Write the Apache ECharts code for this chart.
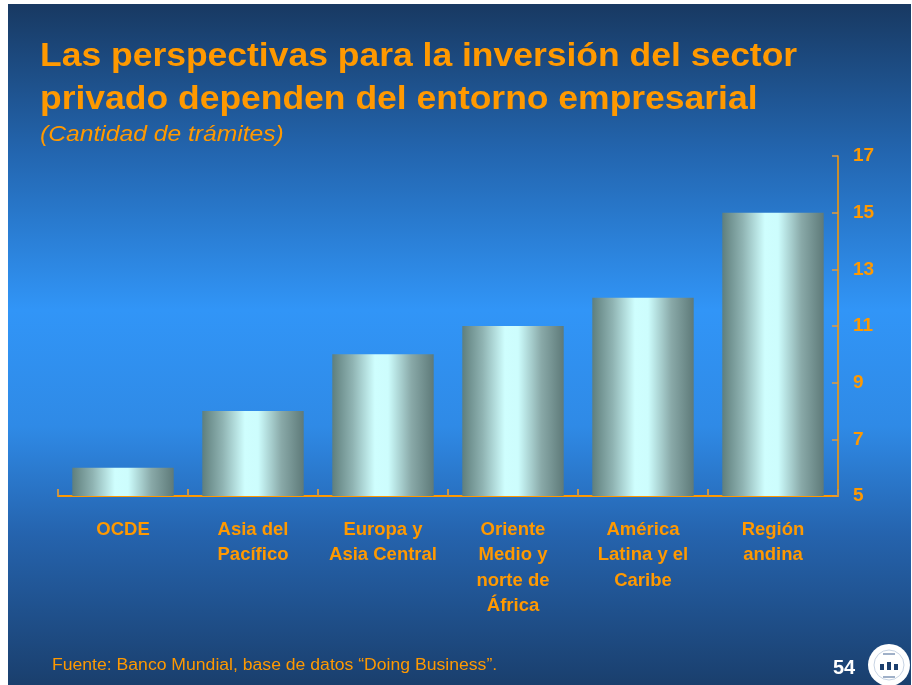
<!DOCTYPE html>
<html>
<head>
<meta charset="utf-8">
<style>
  html, body { margin: 0; padding: 0; background: #ffffff; }
  #chart { width: 912px; height: 685px; }
</style>
<script src="https://cdn.jsdelivr.net/npm/echarts@6/dist/echarts.min.js"></script>
</head>
<body>
<div id="chart"></div>
<script>
// Number of procedures required to start a business, by region
const categories = [
  'OCDE',
  'Asia del\nPacífico',
  'Europa y\nAsia Central',
  'Oriente\nMedio y\nnorte de\nÁfrica',
  'América\nLatina y el\nCaribe',
  'Región\nandina'
];
const procedures = [6, 8, 10, 11, 12, 15];
const yTicks = { min: 5, max: 17, step: 2 };

const titleLines = [
  'Las perspectivas para la inversión del sector',
  'privado dependen del entorno empresarial'
];
const subtitle = '(Cantidad de trámites)';
const sourceNote = 'Fuente: Banco Mundial, base de datos \u201cDoing Business\u201d.';
const pageNumber = '54';

const ORANGE = '#ff9900';
const FONT = '"Liberation Sans", Arial, sans-serif';
// slide text is set slightly wide
const WIDE = 1.1;

const chart = echarts.init(document.getElementById('chart'), null, { renderer: 'canvas' });

const barFill = new echarts.graphic.LinearGradient(0, 0, 1, 0, [
  { offset: 0, color: '#5f7f7d' },
  { offset: 0.2, color: '#8fb3b2' },
  { offset: 0.42, color: '#cffefe' },
  { offset: 0.55, color: '#cdfdfd' },
  { offset: 0.78, color: '#89a9a8' },
  { offset: 1, color: '#5e7a79' }
]);

chart.setOption({
  backgroundColor: 'transparent',
  animation: false,
  textStyle: { fontFamily: FONT },
  grid: { left: 58, right: 74, top: 156, bottom: 189, containLabel: false },
  graphic: [
    {
      type: 'rect',
      z: -10,
      shape: { x: 8, y: 4, width: 903, height: 681 },
      style: {
        fill: new echarts.graphic.LinearGradient(0, 0, 0, 1, [
          { offset: 0, color: '#183962' },
          { offset: 0.22, color: '#2366b0' },
          { offset: 0.45, color: '#3195f7' },
          { offset: 0.62, color: '#2f8ae6' },
          { offset: 0.78, color: '#2563ad' },
          { offset: 1, color: '#1a3f6d' }
        ])
      }
    },
    {
      type: 'text',
      x: 40, y: 35,
      scaleX: 1.075,
      style: {
        text: titleLines.join('\n'),
        fill: ORANGE,
        font: 'bold 33px ' + FONT,
        lineHeight: 43
      }
    },
    {
      type: 'text',
      x: 40, y: 124,
      scaleX: 1.12,
      style: {
        text: subtitle,
        fill: ORANGE,
        font: 'italic 22px ' + FONT
      }
    },
    {
      type: 'text',
      x: 52, y: 658,
      scaleX: WIDE,
      style: {
        text: sourceNote,
        fill: ORANGE,
        font: '16px ' + FONT
      }
    },
    {
      type: 'text',
      x: 833, y: 658,
      style: {
        text: pageNumber,
        fill: '#ffffff',
        font: 'bold 20px ' + FONT
      }
    },
    {
      type: 'group',
      x: 868, y: 644,
      children: [
        { type: 'circle', shape: { cx: 21, cy: 21, r: 21 }, style: { fill: '#ffffff' } },
        { type: 'circle', shape: { cx: 21, cy: 21, r: 15 }, style: { fill: 'none', stroke: '#c8d4e4', lineWidth: 1 } },
        { type: 'rect', shape: { x: 12, y: 20, width: 4, height: 6 }, style: { fill: '#1c3f6e' } },
        { type: 'rect', shape: { x: 19, y: 18, width: 4, height: 8 }, style: { fill: '#1c3f6e' } },
        { type: 'rect', shape: { x: 26, y: 20, width: 4, height: 6 }, style: { fill: '#1c3f6e' } },
        { type: 'rect', shape: { x: 15, y: 9, width: 12, height: 2 }, style: { fill: '#9fb0c8' } },
        { type: 'rect', shape: { x: 15, y: 32, width: 12, height: 2 }, style: { fill: '#9fb0c8' } }
      ]
    }
  ],
  xAxis: {
    type: 'category',
    data: categories,
    boundaryGap: true,
    axisLine: { show: true, lineStyle: { color: '#ff9900', width: 2 } },
    axisTick: { show: true, inside: true, length: 7, lineStyle: { color: '#c7954a', width: 2 } },
    axisLabel: {
      color: ORANGE,
      fontFamily: FONT,
      fontWeight: 'bold',
      fontSize: 18.5,
      lineHeight: 25.5,
      margin: 21,
      interval: 0,
      align: 'center',
      verticalAlign: 'top'
    },
    splitLine: { show: false }
  },
  yAxis: {
    type: 'value',
    position: 'right',
    min: yTicks.min,
    max: yTicks.max,
    interval: yTicks.step,
    axisLine: { show: true, lineStyle: { color: '#ff9900', width: 1.5 } },
    axisTick: { show: true, inside: true, length: 6, lineStyle: { color: '#e39a3a', width: 1.5 } },
    axisLabel: {
      color: ORANGE,
      fontFamily: FONT,
      fontWeight: 'bold',
      fontSize: 19,
      margin: 15
    },
    splitLine: { show: false }
  },
  series: [
    {
      type: 'bar',
      data: procedures,
      barCategoryGap: '22%',
      itemStyle: { color: barFill },
      z: 1
    }
  ]
});
</script>
</body>
</html>
